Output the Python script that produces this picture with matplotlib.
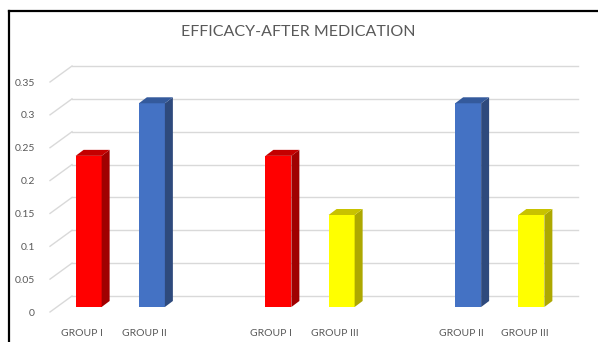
import matplotlib.pyplot as plt
from matplotlib.patches import Polygon
from matplotlib.lines import Line2D

W, H = 598, 342
DPI = 100

# data
labels = ["GROUP I", "GROUP II", "GROUP I", "GROUP III", "GROUP II", "GROUP III"]
positions = [0, 1, 3, 4, 6, 7]
values = [0.23, 0.31, 0.23, 0.14, 0.31, 0.14]
front_cols = ["#FF0000", "#4472C4", "#FF0000", "#FFFF00", "#4472C4", "#FFFF00"]
side_cols = ["#A00000", "#2E4A7D", "#A00000", "#ADA800", "#2E4A7D", "#ADA800"]
top_cols = ["#C40000", "#345A9C", "#C40000", "#C8C200", "#345A9C", "#C8C200"]
yticks = [0, 0.05, 0.1, 0.15, 0.2, 0.25, 0.3, 0.35]

plt.rcParams["font.family"] = ["Lato", "DejaVu Sans"]

fig = plt.figure(figsize=(W / DPI, H / DPI), dpi=DPI)
fig.patch.set_facecolor("white")

# axes = front plane of the 3D box (pixels)
left, right, y0, y35 = 50, 556, 312, 82
ax = fig.add_axes([left / W, (H - y0) / H, (right - left) / W, (y0 - y35) / H])
ax.set_xlim(-0.5, 7.5)
ax.set_ylim(0, 0.35)
for s in ax.spines.values():
    s.set_visible(False)

px_x = 8 / (right - left)          # data units per pixel
px_y = 0.35 / (y0 - y35)

# back wall gridlines + left floor diagonals
gdx, gdy = 22 * px_x, 16 * px_y
for t in yticks:
    ax.plot([-0.5 + gdx, 7.5 + gdx], [t + gdy, t + gdy], color="#D9D9D9",
            lw=1, clip_on=False, zorder=1)
    ax.plot([-0.5, -0.5 + gdx], [t, t + gdy], color="#D9D9D9",
            lw=1, clip_on=False, zorder=1)

# bars with fake depth
fx, fy = 7 * px_x, 5 * px_y      # front face offset
dx, dy = 8 * px_x, 6 * px_y      # bar depth
bw = 26 * px_x
for x, v, fc, sc, tc in zip(positions, values, front_cols, side_cols, top_cols):
    x0 = x - bw / 2 + fx
    x1 = x + bw / 2 + fx
    b = fy
    top = v + fy
    ax.add_patch(Polygon([(x0, b), (x1, b), (x1, top), (x0, top)],
                         closed=True, facecolor=fc, edgecolor="none", zorder=3, clip_on=False))
    ax.add_patch(Polygon([(x1, b), (x1 + dx, b + dy), (x1 + dx, top + dy), (x1, top)],
                         closed=True, facecolor=sc, edgecolor="none", zorder=3, clip_on=False))
    ax.add_patch(Polygon([(x0, top), (x1, top), (x1 + dx, top + dy), (x0 + dx, top + dy)],
                         closed=True, facecolor=tc, edgecolor="none", zorder=3, clip_on=False))

ax.set_yticks(yticks)
ax.set_yticklabels([f"{t:g}" for t in yticks])
ax.set_xticks(positions)
ax.set_xticklabels(labels)
ax.tick_params(axis="y", length=0, pad=11, labelsize=7.5, labelcolor="#595959")
ax.tick_params(axis="x", length=0, pad=12, labelsize=7.5, labelcolor="#595959")

fig.text(298 / W, 1 - 32 / H, "EFFICACY-AFTER MEDICATION", ha="center", va="center",
         fontsize=11.5, color="#595959")

# chart frame (top and left edges visible)
fig.add_artist(Line2D([8.5 / W, 1], [1 - 10.5 / H, 1 - 10.5 / H], color="black", lw=1.6))
fig.add_artist(Line2D([8.5 / W, 8.5 / W], [0, 1 - 10.5 / H], color="black", lw=1.6))

fig.savefig("out.png", dpi=DPI, facecolor="white")
